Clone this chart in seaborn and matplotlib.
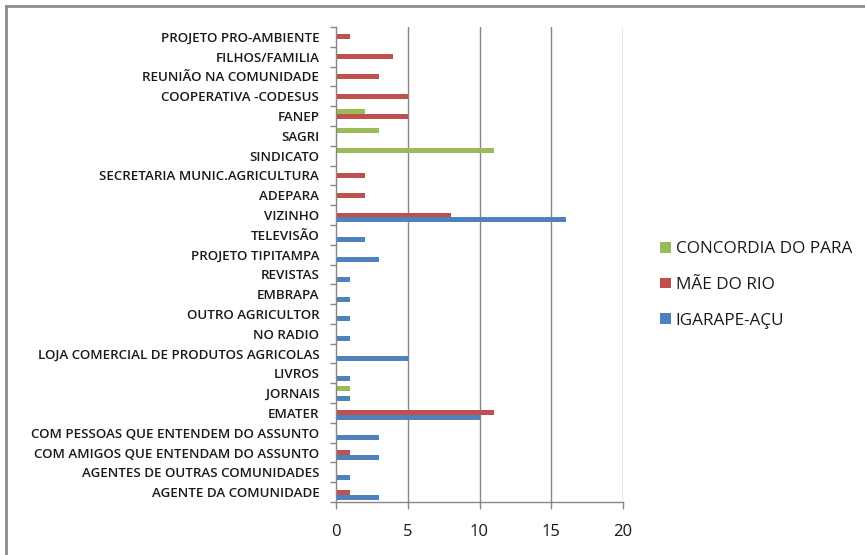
import matplotlib
matplotlib.use("Agg")
import matplotlib.pyplot as plt
from matplotlib.lines import Line2D
import numpy as np
import pandas as pd
import seaborn as sns

# Information sources, listed top to bottom
categories = [
    "PROJETO PRO-AMBIENTE",
    "FILHOS/FAMILIA",
    "REUNIÃO NA COMUNIDADE",
    "COOPERATIVA -CODESUS",
    "FANEP",
    "SAGRI",
    "SINDICATO",
    "SECRETARIA MUNIC.AGRICULTURA",
    "ADEPARA",
    "VIZINHO",
    "TELEVISÃO",
    "PROJETO TIPITAMPA",
    "REVISTAS",
    "EMBRAPA",
    "OUTRO AGRICULTOR",
    "NO RADIO",
    "LOJA COMERCIAL DE PRODUTOS AGRICOLAS",
    "LIVROS",
    "JORNAIS",
    "EMATER",
    "COM PESSOAS QUE ENTENDEM DO ASSUNTO",
    "COM AMIGOS QUE ENTENDAM DO ASSUNTO",
    "AGENTES DE OUTRAS COMUNIDADES",
    "AGENTE DA COMUNIDADE",
]

concordia = [0, 0, 0, 0, 2, 3, 11, 0, 0, 0, 0, 0, 0, 0, 0, 0, 0, 0, 1, 0, 0, 0, 0, 0]
mae_do_rio = [1, 4, 3, 5, 5, 0, 0, 2, 2, 8, 0, 0, 0, 0, 0, 0, 0, 0, 0, 11, 0, 1, 0, 1]
igarape = [0, 0, 0, 0, 0, 0, 0, 0, 0, 16, 2, 3, 1, 1, 1, 1, 5, 1, 1, 10, 3, 3, 1, 3]

series_names = ["CONCORDIA DO PARA", "MÃE DO RIO", "IGARAPE-AÇU"]
series_colors = ["#9BBB59", "#C0504D", "#4F81BD"]
x_ticks = [0, 5, 10, 15, 20]

frames = []
for name, vals in zip(series_names, [concordia, mae_do_rio, igarape]):
    frames.append(pd.DataFrame({"fonte": categories, "valor": vals, "municipio": name}))
df = pd.concat(frames, ignore_index=True)

plt.rcParams["font.family"] = ["Open Sans", "DejaVu Sans"]

fig = plt.figure(figsize=(8.65, 5.55), dpi=100)
ax = fig.add_axes([336 / 865, 1 - 502 / 555, (623 - 336) / 865, (502 - 27) / 555])

sns.barplot(
    data=df, y="fonte", x="valor", hue="municipio",
    order=categories, hue_order=series_names,
    palette=series_colors, orient="h", width=0.75,
    saturation=1, ax=ax, legend=True, errorbar=None,
)

grid_color = "#868686"
text_color = "#1a1a1a"
ax.set_xlim(0, 20)
ax.set_ylim(len(categories) - 0.5, -0.5)
ax.set_xticks(x_ticks)
ax.set_xticklabels([str(t) for t in x_ticks], fontsize=12, color=text_color)
ax.tick_params(axis="x", length=5, width=1, color=grid_color, pad=11, direction="out")

# Category labels centred, tick marks on the category boundaries
ax.set_yticks(range(len(categories)))
ax.set_yticklabels(categories, fontsize=9.6, color=text_color, fontweight="semibold")
ax.tick_params(axis="y", which="major", length=0, pad=12)
ax.set_yticks(np.arange(-0.5, len(categories) + 0.5, 1), minor=True)
ax.tick_params(axis="y", which="minor", length=4, width=1, color=grid_color, direction="out")

ax.set_xlabel("")
ax.set_ylabel("")
ax.grid(False)
for x in x_ticks[1:]:
    ax.axvline(x, color=grid_color, linewidth=1, zorder=0)
for side in ["top", "right"]:
    ax.spines[side].set_visible(False)
for side in ["left", "bottom"]:
    ax.spines[side].set_color(grid_color)
    ax.spines[side].set_linewidth(1)

handles, labels = ax.get_legend_handles_labels()
leg = ax.legend(
    handles, labels, loc="center left", bbox_to_anchor=(645 / 865, 1 - 285 / 555),
    bbox_transform=fig.transFigure, frameon=False, fontsize=12.3,
    handlelength=0.6, handleheight=0.6, handletextpad=0.3, labelspacing=1.15,
)
for t in leg.get_texts():
    t.set_color(text_color)

# Outer chart frame (top and left edges)
fx = 5.5 / 865
fy = 1 - 6 / 555
fig.add_artist(Line2D([fx, fx], [0, fy], transform=fig.transFigure,
                      color="#8c8c8c", linewidth=2))
fig.add_artist(Line2D([fx, 1], [fy, fy], transform=fig.transFigure,
                      color="#8c8c8c", linewidth=2))

fig.savefig("out.png", dpi=100, facecolor="white")
